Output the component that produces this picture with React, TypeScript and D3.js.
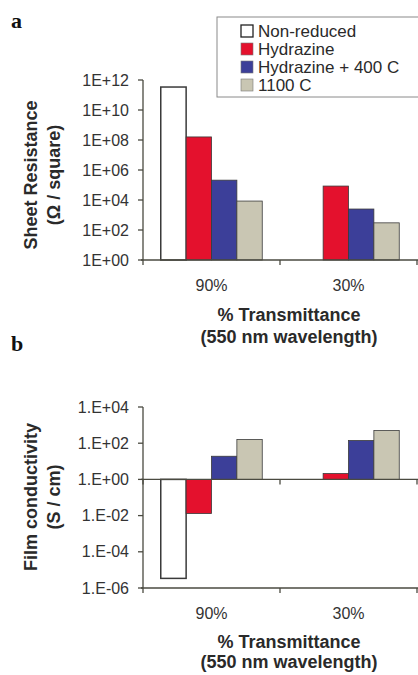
import React from "react";
import * as d3 from "d3";

const categories = ["90%", "30%"];
const seriesNames = ["Non-reduced", "Hydrazine", "Hydrazine + 400 C", "1100 C"];
const seriesColors = ["#ffffff", "#e4112d", "#3c3f99", "#c9c6b3"];
// Sheet resistance (Ω / square), per series: [90%, 30%]
const sheetResistance: (number | null)[][] = [
  [3.4e11, null],
  [1.6e8, 8.5e4],
  [2.1e5, 2.5e3],
  [8.5e3, 3.0e2],
];
// Film conductivity (S / cm), per series: [90%, 30%]
const filmConductivity: (number | null)[][] = [
  [3.4e-6, null],
  [1.3e-2, 2.1],
  [19, 140],
  [160, 500],
];
const ticksA = [1, 1e2, 1e4, 1e6, 1e8, 1e10, 1e12];
const tickLabelsA = ["1E+00", "1E+02", "1E+04", "1E+06", "1E+08", "1E+10", "1E+12"];
const ticksB = [1e-6, 1e-4, 1e-2, 1, 1e2, 1e4];
const tickLabelsB = ["1.E-06", "1.E-04", "1.E-02", "1.E+00", "1.E+02", "1.E+04"];

const SANS = "'Liberation Sans', Arial, sans-serif";
const AXIS = "#4a4a40";
const TXT = "#2a2a2a";

function Panel({
  values, ticks, tickLabels, y, baseline, bottom, top, titleLines, yTitle,
}: {
  values: (number | null)[][];
  ticks: number[];
  tickLabels: string[];
  y: d3.ScaleLogarithmic<number, number>;
  baseline: number;
  bottom: number;
  top: number;
  titleLines: [number, number];
  yTitle: [string, string, number];
}) {
  const x0 = d3.scaleBand<string>().domain(categories).range([143, 417]).paddingInner(0).paddingOuter(0);
  const x1 = d3.scaleBand<string>().domain(seriesNames).range([0, x0.bandwidth()]).paddingInner(0).paddingOuter(0.7);
  const yb = y(baseline);
  const yBottom = y(bottom);
  return (
    <g>
      {/* bars */}
      {seriesNames.map((s, si) =>
        categories.map((c, ci) => {
          const v = values[si][ci];
          if (v == null) return null;
          const yv = y(v);
          return (
            <rect
              key={s + c}
              x={(x0(c) ?? 0) + (x1(s) ?? 0)}
              y={Math.min(yv, yb)}
              width={x1.bandwidth()}
              height={Math.abs(yv - yb)}
              fill={seriesColors[si]}
              stroke="#3a3a3a"
              strokeWidth={si === 0 ? 1.5 : 0.8}
            />
          );
        })
      )}
      {/* y axis */}
      <line x1={143} x2={143} y1={y(top)} y2={yBottom} stroke={AXIS} strokeWidth={1.3} />
      {ticks.map((t, i) => (
        <g key={t}>
          <line x1={138} x2={143} y1={y(t)} y2={y(t)} stroke={AXIS} strokeWidth={1.3} />
          <text x={129} y={y(t)} dy="0.35em" textAnchor="end" fontFamily={SANS} fontSize={16} fill="#333">
            {tickLabels[i]}
          </text>
        </g>
      ))}
      {/* baseline axis */}
      <line x1={141} x2={418} y1={yb} y2={yb} stroke={AXIS} strokeWidth={1.3} />
      {bottom !== baseline && (
        <line x1={141} x2={418} y1={yBottom} y2={yBottom} stroke={AXIS} strokeWidth={1.3} />
      )}
      {[...categories.map((c) => x0(c) ?? 0), 417].map((xx, i) => (
        <g key={i}>
          <line x1={xx} x2={xx} y1={yb} y2={yb + 5} stroke={AXIS} strokeWidth={1.3} />
          {bottom !== baseline && (
            <line x1={xx} x2={xx} y1={yBottom} y2={yBottom + 5} stroke={AXIS} strokeWidth={1.3} />
          )}
        </g>
      ))}
      {categories.map((c) => (
        <text key={c} x={(x0(c) ?? 0) + x0.bandwidth() / 2} y={yBottom + 31} textAnchor="middle" fontFamily={SANS} fontSize={16} fill="#333">
          {c}
        </text>
      ))}
      <text x={289} y={titleLines[0]} textAnchor="middle" fontFamily={SANS} fontSize={18} fontWeight="bold" fill={TXT}>
        % Transmittance
      </text>
      <text x={289} y={titleLines[1]} textAnchor="middle" fontFamily={SANS} fontSize={18} fontWeight="bold" fill={TXT}>
        (550 nm wavelength)
      </text>
      <text transform={`translate(37,${yTitle[2]}) rotate(-90)`} textAnchor="middle" fontFamily={SANS} fontSize={18} fontWeight="bold" fill={TXT}>
        {yTitle[0]}
      </text>
      <text transform={`translate(60,${yTitle[2]}) rotate(-90)`} textAnchor="middle" fontFamily={SANS} fontSize={18} fontWeight="bold" fill={TXT}>
        {yTitle[1]}
      </text>
    </g>
  );
}

export default function App() {
  const yA = d3.scaleLog().domain([1, 1e12]).range([260, 80]);
  const yB = d3.scaleLog().domain([1e-6, 1e4]).range([588, 407]);
  return (
    <svg width={418} height={675} style={{ position: "absolute", left: 0, top: 0, background: "#fff" }}>
      <text x={11} y={28} fontFamily="'Liberation Serif', 'DejaVu Serif', serif" fontWeight="bold" fontSize={22} fill="#111">a</text>
      <text x={11} y={351} fontFamily="'Liberation Serif', 'DejaVu Serif', serif" fontWeight="bold" fontSize={22} fill="#111">b</text>

      {/* legend */}
      <rect x={217} y={17} width={220} height={80} fill="#fff" stroke="#8a8a8a" strokeWidth={1} />
      {seriesNames.map((s, i) => (
        <g key={s}>
          <rect x={241} y={25 + i * 18} width={12} height={12} fill={seriesColors[i]} stroke={i === 0 ? "#222" : "#777"} strokeWidth={i === 0 ? 1.3 : 0.6} />
          <text x={258} y={37 + i * 18} fontFamily={SANS} fontSize={17} fill={TXT}>{s}</text>
        </g>
      ))}

      <Panel
        values={sheetResistance}
        ticks={ticksA}
        tickLabels={tickLabelsA}
        y={yA}
        baseline={1}
        bottom={1}
        top={1e12}
        titleLines={[321, 343]}
        yTitle={["Sheet Resistance", "(Ω / square)", 175]}
      />
      <Panel
        values={filmConductivity}
        ticks={ticksB}
        tickLabels={tickLabelsB}
        y={yB}
        baseline={1}
        bottom={1e-6}
        top={1e4}
        titleLines={[648, 668]}
        yTitle={["Film conductivity", "(S / cm)", 497]}
      />
    </svg>
  );
}
